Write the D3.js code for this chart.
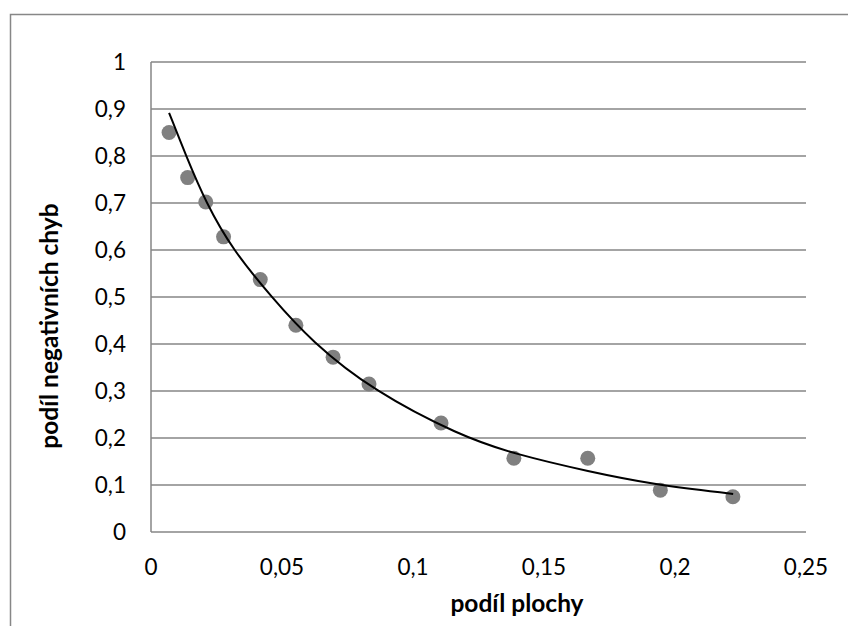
<!DOCTYPE html>
<html>
<head>
<meta charset="utf-8">
<script src="https://cdn.jsdelivr.net/npm/d3@7"></script>
<style>
  body { margin: 0; background: #fff; }
  svg { display: block; font-family: Lato, "Open Sans", sans-serif; }
</style>
</head>
<body>
<div id="chart"></div>
<script>
// measured points (podíl plochy, podíl negativních chyb)
const areaShare = [0.0069, 0.0140, 0.0209, 0.0277, 0.0417, 0.0553, 0.0695, 0.0832, 0.1107, 0.1385, 0.1667, 0.1944, 0.2221];
const negShare  = [0.850, 0.754, 0.702, 0.628, 0.537, 0.440, 0.372, 0.315, 0.232, 0.157, 0.157, 0.089, 0.075];

// trend line
const trendX = [0.0069, 0.0134, 0.0210, 0.0312, 0.0460, 0.0613, 0.0849, 0.1179, 0.1385, 0.1676, 0.1917, 0.2222];
const trendY = [0.892, 0.800, 0.700, 0.600, 0.500, 0.405, 0.300, 0.205, 0.166, 0.128, 0.101, 0.081];

const xTicks = [0, 0.05, 0.1, 0.15, 0.2, 0.25];
const yTicks = [0, 0.1, 0.2, 0.3, 0.4, 0.5, 0.6, 0.7, 0.8, 0.9, 1];

const W = 848, H = 626;
const plot = { left: 151, right: 806, top: 62, bottom: 532 };

const fmt = v => String(v).replace(".", ",");

const svg = d3.select("#chart").append("svg")
    .attr("width", W)
    .attr("height", H);

// outer chart border (cropped on right and bottom)
svg.append("rect")
    .attr("x", 10.5).attr("y", 14.5)
    .attr("width", 1000).attr("height", 1000)
    .attr("fill", "none")
    .attr("stroke", "#878787")
    .attr("stroke-width", 1.5);

const x = d3.scaleLinear().domain([0, 0.25]).range([plot.left, plot.right]);
const y = d3.scaleLinear().domain([0, 1]).range([plot.bottom, plot.top]);

// horizontal gridlines
svg.append("g")
    .selectAll("line")
    .data(yTicks)
    .join("line")
    .attr("x1", plot.left).attr("x2", plot.right)
    .attr("y1", d => y(d)).attr("y2", d => y(d))
    .attr("stroke", "#868686")
    .attr("stroke-width", 1.5);

// left axis line
svg.append("line")
    .attr("x1", plot.left).attr("x2", plot.left)
    .attr("y1", plot.top).attr("y2", plot.bottom)
    .attr("stroke", "#868686")
    .attr("stroke-width", 1.5);

// y tick labels
svg.append("g")
    .selectAll("text")
    .data(yTicks)
    .join("text")
    .attr("x", 126)
    .attr("y", d => y(d))
    .attr("dy", "0.36em")
    .attr("text-anchor", "end")
    .attr("font-size", 22.5)
    .attr("fill", "#000")
    .text(fmt);

// x tick labels
svg.append("g")
    .selectAll("text")
    .data(xTicks)
    .join("text")
    .attr("x", d => x(d))
    .attr("y", 575)
    .attr("text-anchor", "middle")
    .attr("font-size", 22.5)
    .attr("fill", "#000")
    .text(fmt);

// axis titles
svg.append("text")
    .attr("x", 517)
    .attr("y", 612)
    .attr("text-anchor", "middle")
    .attr("font-size", 24.5)
    .attr("font-weight", "bold")
    .text("podíl plochy");

svg.append("text")
    .attr("transform", "translate(58,326) rotate(-90)")
    .attr("text-anchor", "middle")
    .attr("font-size", 24.5)
    .attr("font-weight", "bold")
    .text("podíl negativních chyb");

// points
svg.append("g")
    .selectAll("circle")
    .data(areaShare.map((v, i) => [v, negShare[i]]))
    .join("circle")
    .attr("cx", d => x(d[0]))
    .attr("cy", d => y(d[1]))
    .attr("r", 7.5)
    .attr("fill", "#808080");

// trend line
const line = d3.line()
    .curve(d3.curveBasis)
    .x(d => x(d[0]))
    .y(d => y(d[1]));

svg.append("path")
    .datum(trendX.map((v, i) => [v, trendY[i]]))
    .attr("d", line)
    .attr("fill", "none")
    .attr("stroke", "#000")
    .attr("stroke-width", 2);
</script>
</body>
</html>
